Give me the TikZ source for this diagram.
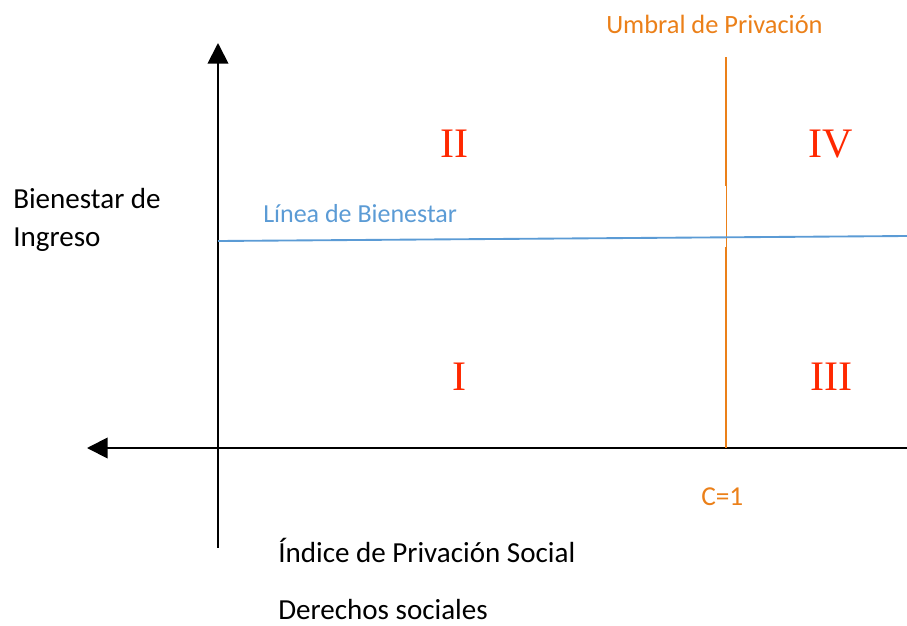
\documentclass[tikz,border=0pt]{standalone}
\usepackage{fontspec}
\setmainfont{Carlito}
\newfontfamily\romanfont{Liberation Serif}
\usetikzlibrary{arrows.meta}
\definecolor{umbral}{RGB}{235,128,25}
\definecolor{bienestar}{RGB}{91,155,213}
\definecolor{cuadrante}{RGB}{255,40,0}
\tikzset{
  eje/.style={line width=1.4pt, -{Triangle[length=15.5pt,width=15.5pt]}},
  rotulo/.style={anchor=base west, inner sep=0pt, font=\fontsize{21.8}{26}\selectfont},
  rotulochico/.style={anchor=base west, inner sep=0pt, font=\fontsize{19.8}{24}\selectfont},
  numeral/.style={anchor=base, inner sep=0pt, text=cuadrante, font=\romanfont\fontsize{31.5}{36}\selectfont}
}
\begin{document}
\begin{tikzpicture}[x=0.75pt,y=-0.75pt]
\useasboundingbox (0,0) rectangle (907,625);
% ejes
\coordinate (O) at (218,448);
\coordinate (Ytop) at (218,43);
\coordinate (Ybot) at (218,548);
\coordinate (Xleft) at (87,448);
\coordinate (Xright) at (907,448);
\draw[line width=1.4pt] (O) -- (Ybot);
\draw[eje] (O) -- (Ytop);
\draw[eje] (Xright) -- (Xleft);
% umbral de privacion
\coordinate (Utop) at (726,57);
\coordinate (Ua) at (726,186);
\coordinate (Ub) at (726,247);
\coordinate (Ubot) at (726,448);
\draw[umbral, line width=1.5pt] (Utop) -- (Ua);
\draw[umbral, line width=0.7pt] (Ua) -- (Ub);
\draw[umbral, line width=1.5pt] (Ub) -- (Ubot);
% linea de bienestar
\coordinate (Bleft) at (218,241);
\coordinate (Bright) at (907,236);
\draw[bienestar, line width=1.4pt] (Bleft) -- (Bright);
% textos
\node[rotulochico, text=umbral] (umbraltxt) at (606,33) {Umbral de Privación};
\node[rotulochico, text=umbral, font=\fontsize{20.5}{24}\selectfont] (ctxt) at (701,505) {C=1};
\node[rotulochico, text=bienestar, font=\fontsize{19.5}{24}\selectfont] (lineatxt) at (263,222) {Línea de Bienestar};
\node[rotulo] (bien1) at (13,208) {Bienestar de};
\node[rotulo] (bien2) at (13,246) {Ingreso};
\node[rotulo] (indice) at (278,562) {Índice de Privación Social};
\node[rotulo] (derechos) at (278,619) {Derechos sociales};
% cuadrantes
\node[numeral] (II) at (454,157) {II};
\node[numeral] (IV) at (831,157) {IV};
\node[numeral] (I) at (459,390) {I};
\node[numeral] (III) at (831,390) {III};
\end{tikzpicture}
\end{document}
